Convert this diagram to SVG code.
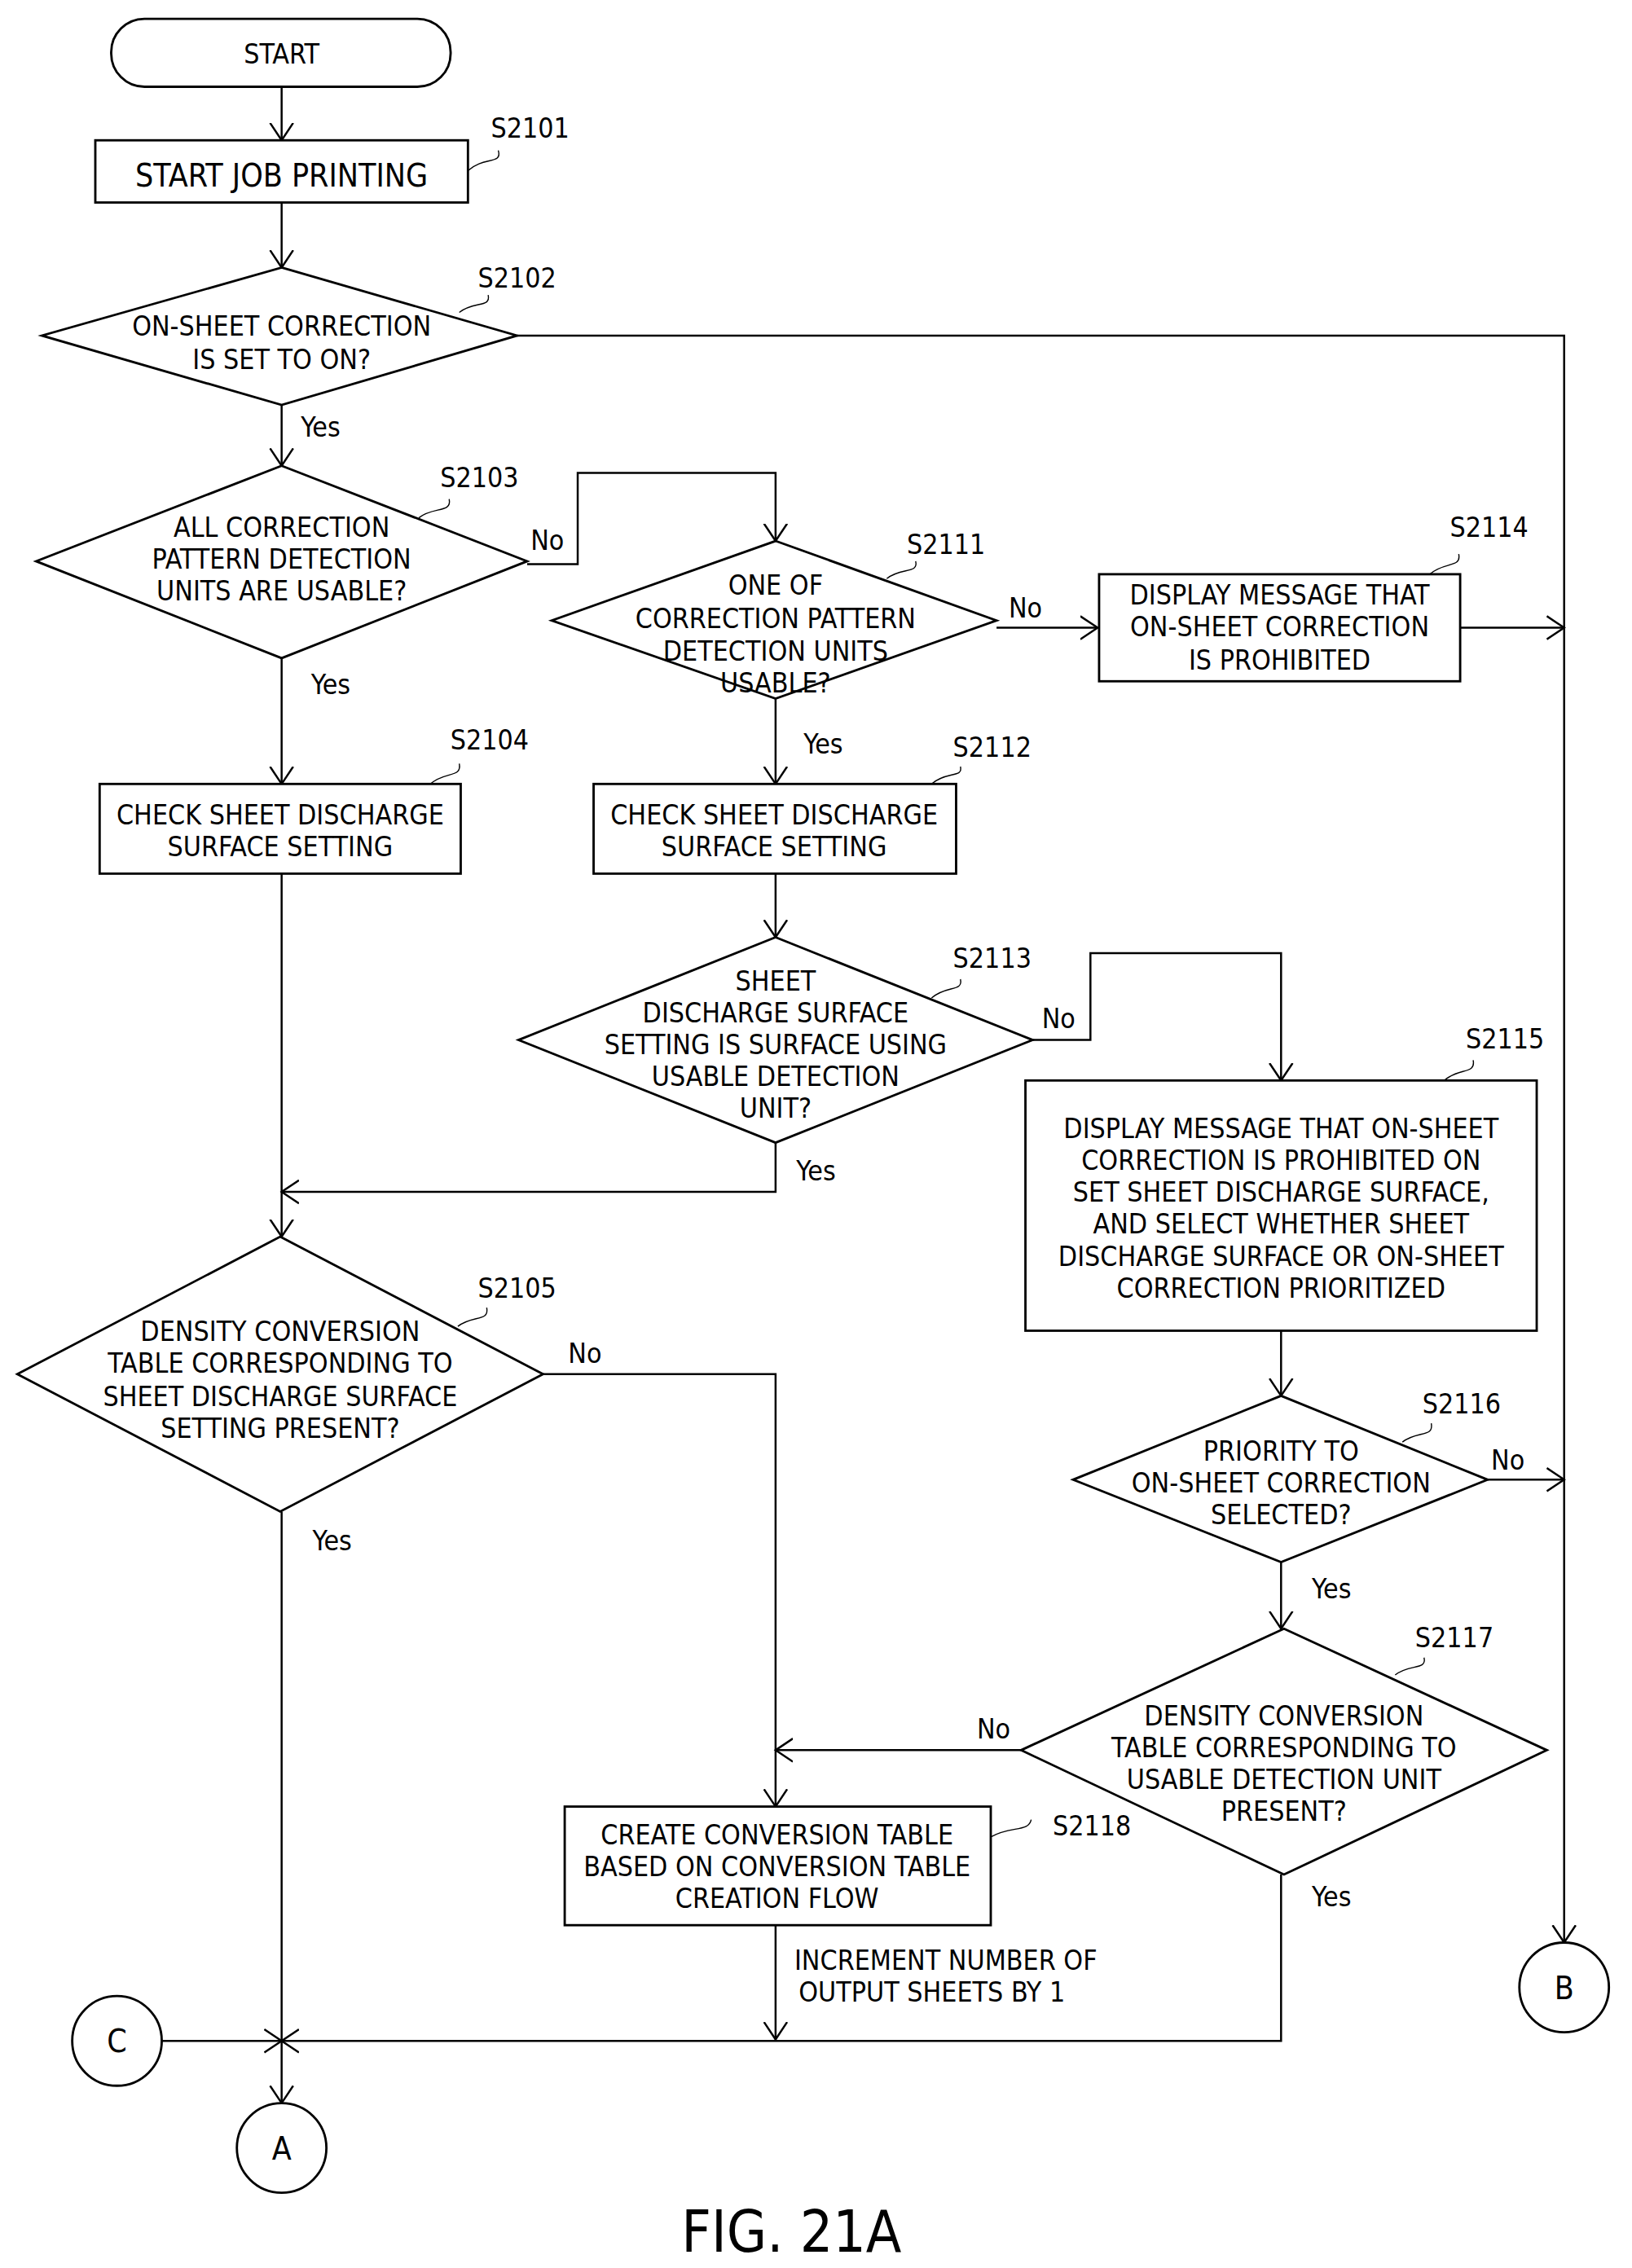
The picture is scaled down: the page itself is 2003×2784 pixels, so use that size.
<svg xmlns="http://www.w3.org/2000/svg" width="2003" height="2784" viewBox="0 0 2003 2784">
<style>
.s{fill:#fff;stroke:#000;stroke-width:1.6}
.c{fill:none;stroke:#000;stroke-width:1.4}
.l{fill:none;stroke:#000;stroke-width:0.8}
text{font-family:"DejaVu Sans Condensed","Liberation Sans Narrow","Liberation Sans",sans-serif;font-size:19px;fill:#000}
.m{text-anchor:middle}
</style>
<defs>
<marker id="a" markerUnits="userSpaceOnUse" markerWidth="14" markerHeight="20" refX="12" refY="8" orient="auto" viewBox="0 0 14 16">
<path d="M0,0 L12,8 L0,16" fill="none" stroke="#000" stroke-width="1.4"/>
</marker>
</defs>
<rect width="2003" height="2784" fill="#fff"/>
<g transform="scale(1.7726,1.7755)">
<g id="connectors" class="c">
<path d="M195,60V97" marker-end="url(#a)"/>
<path d="M195,140V185" marker-end="url(#a)"/>
<path d="M358,232H1083V1343" marker-end="url(#a)"/>
<path d="M195,280V322" marker-end="url(#a)"/>
<path d="M365,390H400V327H537V374" marker-end="url(#a)"/>
<path d="M690,434H760" marker-end="url(#a)"/>
<path d="M1011,434H1083" marker-end="url(#a)"/>
<path d="M195,455V542" marker-end="url(#a)"/>
<path d="M195,604V855" marker-end="url(#a)"/>
<path d="M537,483V542" marker-end="url(#a)"/>
<path d="M537,604V648" marker-end="url(#a)"/>
<path d="M715,719H755V659H887V747" marker-end="url(#a)"/>
<path d="M537,790V824H195" marker-end="url(#a)"/>
<path d="M376,950H537V1249" marker-end="url(#a)"/>
<path d="M195,1045V1454" marker-end="url(#a)"/>
<path d="M887,920V965" marker-end="url(#a)"/>
<path d="M1030,1023H1083" marker-end="url(#a)"/>
<path d="M887,1080V1126" marker-end="url(#a)"/>
<path d="M707,1210H537" marker-end="url(#a)"/>
<path d="M537,1331V1410" marker-end="url(#a)"/>
<path d="M887,1296V1411H195" marker-end="url(#a)"/>
<path d="M112,1411H195" marker-end="url(#a)"/>
</g>
<g id="labels">
<text x="222" y="302" class="m">Yes</text>
<text x="379" y="380" class="m">No</text>
<text x="710" y="427" class="m">No</text>
<text x="229" y="480" class="m">Yes</text>
<text x="570" y="521" class="m">Yes</text>
<text x="733" y="711" class="m">No</text>
<text x="565" y="816" class="m">Yes</text>
<text x="405" y="942" class="m">No</text>
<text x="230" y="1072" class="m">Yes</text>
<text x="1044" y="1016" class="m">No</text>
<text x="922" y="1105" class="m">Yes</text>
<text x="688" y="1202" class="m">No</text>
<text x="922" y="1318" class="m">Yes</text>
<text x="550" y="1362">INCREMENT NUMBER OF</text>
<text x="553" y="1384">OUTPUT SHEETS BY 1</text>
</g>
<g id="start"><rect x="77" y="13" width="235" height="47" rx="23" class="s"/><text x="195" y="44" class="m">START</text></g>
<g id="S2101"><rect x="66" y="97" width="258" height="43" class="s"/><text x="195" y="129" class="m" style="font-size:22px">START JOB PRINTING</text>
<text x="367" y="95" class="m">S2101</text><path d="M324,118C335,108 348,114 345,104" class="l"/></g>
<g id="S2102"><polygon points="195,185 358,232 195,280 29,232" class="s"/>
<text x="195" y="232" class="m">ON-SHEET CORRECTION</text><text x="195" y="255" class="m">IS SET TO ON?</text>
<text x="358" y="199" class="m">S2102</text><path d="M318,216C328,208 340,213 338,204" class="l"/></g>
<g id="S2103"><polygon points="195,322 365,388 195,455 25,388" class="s"/>
<text x="195" y="371" class="m">ALL CORRECTION</text><text x="195" y="393" class="m">PATTERN DETECTION</text><text x="195" y="415" class="m">UNITS ARE USABLE?</text>
<text x="332" y="337" class="m">S2103</text><path d="M290,358C300,350 313,355 311,345" class="l"/></g>
<g id="S2111"><polygon points="537,374 690,429 537,483 382,429" class="s"/>
<text x="537" y="411" class="m">ONE OF</text><text x="537" y="434" class="m">CORRECTION PATTERN</text><text x="537" y="457" class="m">DETECTION UNITS</text><text x="537" y="479" class="m">USABLE?</text>
<text x="655" y="383" class="m">S2111</text><path d="M614,400C624,392 636,397 634,388" class="l"/></g>
<g id="S2114"><rect x="761" y="397" width="250" height="74" class="s"/>
<text x="886" y="418" class="m">DISPLAY MESSAGE THAT</text><text x="886" y="440" class="m">ON-SHEET CORRECTION</text><text x="886" y="463" class="m">IS PROHIBITED</text>
<text x="1031" y="371" class="m">S2114</text><path d="M990,397C1000,388 1012,393 1010,383" class="l"/></g>
<g id="S2104"><rect x="69" y="542" width="250" height="62" class="s"/>
<text x="194" y="570" class="m">CHECK SHEET DISCHARGE</text><text x="194" y="592" class="m">SURFACE SETTING</text>
<text x="339" y="518" class="m">S2104</text><path d="M298,542C308,533 320,538 318,528" class="l"/></g>
<g id="S2112"><rect x="411" y="542" width="251" height="62" class="s"/>
<text x="536" y="570" class="m">CHECK SHEET DISCHARGE</text><text x="536" y="592" class="m">SURFACE SETTING</text>
<text x="687" y="523" class="m">S2112</text><path d="M645,542C655,533 667,538 665,530" class="l"/></g>
<g id="S2113"><polygon points="537,648 715,719 537,790 359,719" class="s"/>
<text x="537" y="685" class="m">SHEET</text><text x="537" y="707" class="m">DISCHARGE SURFACE</text><text x="537" y="729" class="m">SETTING IS SURFACE USING</text><text x="537" y="751" class="m">USABLE DETECTION</text><text x="537" y="773" class="m">UNIT?</text>
<text x="687" y="669" class="m">S2113</text><path d="M645,690C655,681 667,686 665,677" class="l"/></g>
<g id="S2115"><rect x="710" y="747" width="354" height="173" class="s"/>
<text x="887" y="787" class="m">DISPLAY MESSAGE THAT ON-SHEET</text><text x="887" y="809" class="m">CORRECTION IS PROHIBITED ON</text><text x="887" y="831" class="m">SET SHEET DISCHARGE SURFACE,</text><text x="887" y="853" class="m">AND SELECT WHETHER SHEET</text><text x="887" y="875" class="m">DISCHARGE SURFACE OR ON-SHEET</text><text x="887" y="897" class="m">CORRECTION PRIORITIZED</text>
<text x="1042" y="725" class="m">S2115</text><path d="M1000,747C1010,738 1022,743 1020,733" class="l"/></g>
<g id="S2105"><polygon points="194,855 376,950 194,1045 12,950" class="s"/>
<text x="194" y="927" class="m">DENSITY CONVERSION</text><text x="194" y="949" class="m">TABLE CORRESPONDING TO</text><text x="194" y="972" class="m">SHEET DISCHARGE SURFACE</text><text x="194" y="994" class="m">SETTING PRESENT?</text>
<text x="358" y="897" class="m">S2105</text><path d="M317,917C327,909 339,914 337,904" class="l"/></g>
<g id="S2116"><polygon points="887,965 1030,1023 887,1080 743,1023" class="s"/>
<text x="887" y="1010" class="m">PRIORITY TO</text><text x="887" y="1032" class="m">ON-SHEET CORRECTION</text><text x="887" y="1054" class="m">SELECTED?</text>
<text x="1012" y="977" class="m">S2116</text><path d="M971,997C981,989 993,994 991,984" class="l"/></g>
<g id="S2117"><polygon points="889,1126 1071,1210 889,1296 707,1210" class="s"/>
<text x="889" y="1193" class="m">DENSITY CONVERSION</text><text x="889" y="1215" class="m">TABLE CORRESPONDING TO</text><text x="889" y="1237" class="m">USABLE DETECTION UNIT</text><text x="889" y="1259" class="m">PRESENT?</text>
<text x="1007" y="1139" class="m">S2117</text><path d="M966,1158C976,1150 988,1155 986,1146" class="l"/></g>
<g id="S2118"><rect x="391" y="1249" width="295" height="82" class="s"/>
<text x="538" y="1275" class="m">CREATE CONVERSION TABLE</text><text x="538" y="1297" class="m">BASED ON CONVERSION TABLE</text><text x="538" y="1319" class="m">CREATION FLOW</text>
<text x="756" y="1269" class="m">S2118</text><path d="M686,1270C700,1262 712,1267 714,1258" class="l"/></g>
<g id="A"><circle cx="195" cy="1485" r="31" class="s"/><text x="195" y="1493" class="m" style="font-size:22px">A</text></g>
<g id="B"><circle cx="1083" cy="1374" r="31" class="s"/><text x="1083" y="1382" class="m" style="font-size:22px">B</text></g>
<g id="C"><circle cx="81" cy="1411" r="31" class="s"/><text x="81" y="1419" class="m" style="font-size:22px">C</text></g>
<text x="548" y="1557" class="m" style="font-size:40px">FIG. 21A</text>
</g>
</svg>
